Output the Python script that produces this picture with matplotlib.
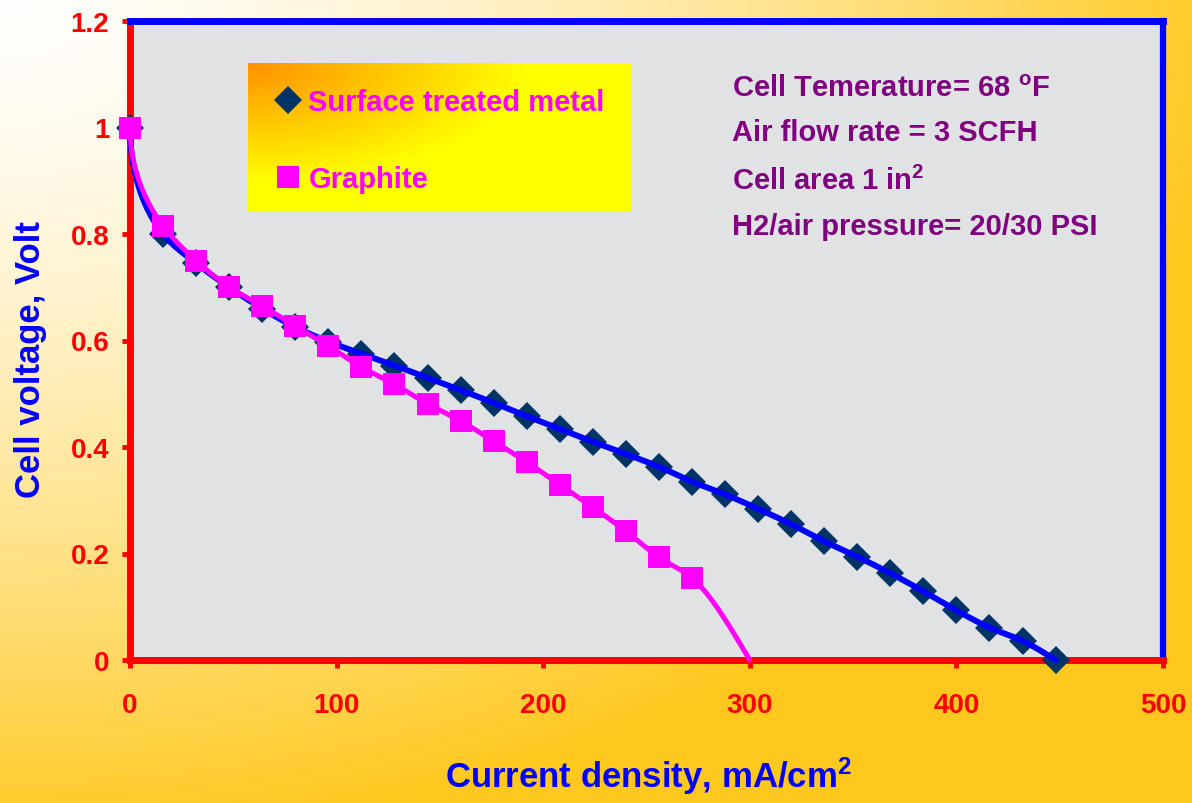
import numpy as np
import matplotlib
matplotlib.use("Agg")
import matplotlib.pyplot as plt
from matplotlib.lines import Line2D

plt.rcParams['font.family'] = ['Liberation Sans', 'DejaVu Sans']
plt.rcParams['font.weight'] = 'bold'
plt.rcParams['mathtext.fontset'] = 'custom'
plt.rcParams['mathtext.rm'] = 'Liberation Sans:bold'
plt.rcParams['mathtext.bf'] = 'Liberation Sans:bold'
plt.rcParams['mathtext.it'] = 'Liberation Sans:bold'

# ---------------- data ----------------
metal_current = [0, 16, 32, 48, 64, 80, 96, 112, 128, 144, 160, 176, 192, 208,
                 224, 240, 256, 272, 288, 304, 320, 336, 352, 368, 384, 400,
                 416, 432, 448]
metal_voltage = [1.0, 0.80, 0.745, 0.70, 0.66, 0.625, 0.598, 0.575, 0.553,
                 0.53, 0.507, 0.483, 0.458, 0.434, 0.41, 0.387, 0.363, 0.335,
                 0.311, 0.284, 0.255, 0.223, 0.194, 0.163, 0.129, 0.093,
                 0.061, 0.036, 0.0]

graphite_current = [0, 16, 32, 48, 64, 80, 96, 112, 128, 144, 160, 176, 192,
                    208, 224, 240, 256, 272]
graphite_voltage = [1.0, 0.815, 0.75, 0.70, 0.665, 0.627, 0.59, 0.55, 0.518,
                    0.481, 0.449, 0.411, 0.372, 0.329, 0.287, 0.242, 0.193,
                    0.154]
# end of the graphite fitted curve (limiting current density, 0 V)
graphite_limit_current = 300
graphite_limit_voltage = 0.0

x_ticks = [0, 100, 200, 300, 400, 500]
y_ticks = [0, 0.2, 0.4, 0.6, 0.8, 1.0, 1.2]
y_tick_labels = ['0', '0.2', '0.4', '0.6', '0.8', '1', '1.2']

series_labels = ['Surface treated metal', 'Graphite']
info_lines = [r'Cell Temerature= 68 $^{\mathrm{o}}$F',
              'Air flow rate = 3 SCFH',
              r'Cell area 1 in$^{2}$',
              'H2/air pressure= 20/30 PSI']


def pchip(x, y, xs):
    """Monotone cubic (Fritsch-Carlson) smoothing through the given points."""
    x = np.asarray(x, float)
    y = np.asarray(y, float)
    h = np.diff(x)
    d = np.diff(y) / h
    n = len(x)
    m = np.zeros(n)
    for k in range(1, n - 1):
        if d[k - 1] * d[k] <= 0:
            m[k] = 0
        else:
            w1 = 2 * h[k] + h[k - 1]
            w2 = h[k] + 2 * h[k - 1]
            m[k] = (w1 + w2) / (w1 / d[k - 1] + w2 / d[k])
    m[0] = (3 * d[0] - m[1]) / 2
    m[-1] = (3 * d[-1] - m[-2]) / 2
    idx = np.clip(np.searchsorted(x, xs) - 1, 0, n - 2)
    t = (xs - x[idx]) / h[idx]
    h00 = 2 * t**3 - 3 * t**2 + 1
    h10 = t**3 - 2 * t**2 + t
    h01 = -2 * t**3 + 3 * t**2
    h11 = t**3 - t**2
    return (h00 * y[idx] + h10 * h[idx] * m[idx] + h01 * y[idx + 1]
            + h11 * h[idx] * m[idx + 1])


def smooth_curve(x, y, n=800):
    """Smooth line through the points, built in sqrt(current) space so the
    steep activation drop near zero current stays smooth."""
    x = np.asarray(x, float)
    u = np.sqrt(x)
    us = np.linspace(u[0], u[-1], n)
    return us ** 2, pchip(u, y, us)


W, H = 1192, 804
fig = plt.figure(figsize=(W / 100, H / 100), dpi=100)

# ---------------- figure background gradient ----------------
bg = fig.add_axes([0, 0, 1, 1], zorder=-10)
gx, gy = np.meshgrid(np.linspace(0, 1, 300), np.linspace(0, 1, 200))
t = np.clip(np.sqrt((gx * W / 1250) ** 2 + (gy * H / 850) ** 2), 0, 1) ** 1.5
c0 = np.array([255, 254, 252]) / 255
c1 = np.array([255, 200, 30]) / 255
img = c0[None, None, :] * (1 - t[..., None]) + c1[None, None, :] * t[..., None]
bg.imshow(img, extent=[0, 1, 0, 1], aspect='auto', origin='upper')
bg.set_axis_off()

# ---------------- main axes ----------------
left, right = 130 / W, 1163 / W
bottom, top = 1 - 661 / H, 1 - 22 / H
ax = fig.add_axes([left, bottom, right - left, top - bottom])
ax.set_facecolor('#E1E2E4')
ax.set_xlim(0, 500)
ax.set_ylim(0, 1.2)

# metal series
ax.plot(metal_current, metal_voltage, linestyle='none', marker='D',
        markersize=14, color='#003366', markeredgewidth=0, zorder=3,
        clip_on=False)
xm, ym = smooth_curve(metal_current, metal_voltage)
ax.plot(xm, ym, color='#0000FF', linewidth=4.3, zorder=4,
        solid_capstyle='round', clip_on=False)

# graphite series
gcx = list(graphite_current) + [graphite_limit_current]
gcy = list(graphite_voltage) + [graphite_limit_voltage]
ax.plot(graphite_current, graphite_voltage, linestyle='none', marker='s',
        markersize=16, color='#FF00FF', markeredgewidth=0, zorder=5,
        clip_on=False)
xg, yg = smooth_curve(gcx, gcy)
ax.plot(xg, yg, color='#FF00FF', linewidth=3.6, zorder=6,
        solid_capstyle='round', clip_on=False)

# spines
for side, col, lw in [('left', '#FF0000', 5), ('bottom', '#FF0000', 5),
                      ('top', '#0000FF', 5), ('right', '#0000FF', 4.5)]:
    ax.spines[side].set_color(col)
    ax.spines[side].set_linewidth(lw)
    ax.spines[side].set_zorder(2)

ax.set_xticks(x_ticks)
ax.set_xticklabels([str(v) for v in x_ticks])
ax.set_yticks(y_ticks)
ax.set_yticklabels(y_tick_labels)
ax.tick_params(axis='both', direction='out', colors='#FF0000', length=6,
               width=3.5, labelsize=20)
ax.tick_params(axis='x', pad=17)
ax.tick_params(axis='y', pad=9)
for lab in ax.get_xticklabels() + ax.get_yticklabels():
    lab.set_fontweight('bold')

# axis titles
fig.text(31 / W, 1 - 360 / H, 'Cell voltage, Volt', rotation=90, ha='center',
         va='center', color='#0000FF', fontsize=25, fontweight='bold')
fig.text(648 / W, 1 - 776 / H, r'Current density, mA/cm$^{2}$', ha='center',
         va='center', color='#0000FF', fontsize=25, fontweight='bold')

# info text
baselines = [0.883, 0.814, 0.737, 0.667]
for line, yb in zip(info_lines, baselines):
    ax.text(0.583, yb, line, transform=ax.transAxes, ha='left',
            va='baseline', color='#800080', fontsize=21, fontweight='bold',
            zorder=7)

# ---------------- legend box with gradient ----------------
lb = fig.add_axes([248 / W, 1 - 212 / H, 384 / W, 148 / H], zorder=5)
lx, ly = np.meshgrid(np.linspace(0, 1, 200), np.linspace(0, 1, 100))
tl = np.clip(np.sqrt((lx * 384 / 280) ** 2 + (ly * 148 / 120) ** 2), 0, 1)
lc0 = np.array([255, 145, 0]) / 255
lc1 = np.array([255, 255, 0]) / 255
limg = lc0[None, None, :] * (1 - tl[..., None]) + lc1[None, None, :] * tl[..., None]
lb.imshow(limg, extent=[0, 1, 0, 1], aspect='auto', origin='upper')
lb.set_axis_off()
handles = [Line2D([], [], linestyle='none', marker='D', markersize=14,
                  color='#003366', markeredgewidth=0),
           Line2D([], [], linestyle='none', marker='s', markersize=16,
                  color='#FF00FF', markeredgewidth=0)]
leg = lb.legend(handles, series_labels, loc='center left',
                bbox_to_anchor=(0.066, 0.476), frameon=False,
                handlelength=1.0, handletextpad=0.2, labelspacing=1.7,
                borderpad=0, borderaxespad=0, labelcolor='#FF00FF',
                prop={'weight': 'bold', 'size': 21})

fig.savefig('out.png', dpi=100)
